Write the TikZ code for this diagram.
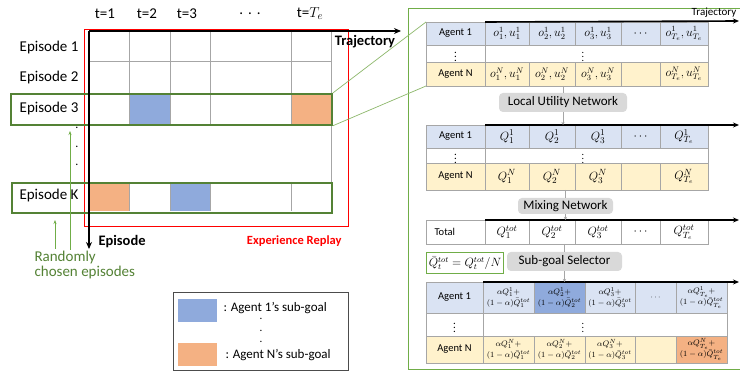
\documentclass[tikz,border=0pt]{standalone}
\usepackage{fontspec}
\setmainfont{Carlito}
\usetikzlibrary{arrows.meta,calc}
\definecolor{gbox}{HTML}{548235}
\definecolor{glink}{HTML}{8DB86B}
\definecolor{panelg}{HTML}{70AD47}
\definecolor{cblue}{HTML}{8FAADC}
\definecolor{corange}{HTML}{F4B183}
\definecolor{lblue}{HTML}{DAE3F3}
\definecolor{lyellow}{HTML}{FFF2CC}
\definecolor{netgray}{HTML}{D9D9D9}
\definecolor{gridg}{HTML}{A6A6A6}
\newcommand{\myfs}[1]{\fontsize{#1}{#1}\selectfont}
\newcommand{\tcell}[7]{\node[cellst,#6,anchor=north west,minimum width={(#4-#2)*1pt},minimum height={(#5-#3)*1pt}] (#1) at (#2,#3) {#7};}
\newcommand{\qq}[2]{$\alpha Q_{#1}^{#2}+$\\$(1-\alpha)\bar{Q}_{#1}^{tot}$}
\begin{document}
\begin{tikzpicture}[x=1pt,y=-1pt,
  cellst/.style={draw=gridg,line width=0.7pt,inner sep=0pt,outer sep=0pt,align=center,font=\myfs{11}},
  labc/.style={font=\myfs{10.5}},
  gridline/.style={draw=gridg,line width=0.7pt},
  epbox/.style={draw=gbox,line width=1.8pt,inner sep=0pt,anchor=north west},
  axis/.style={line width=1.6pt,-{Stealth[length=7pt,width=6pt]}},
  traj/.style={line width=1.6pt,-{Stealth[length=6pt,width=5pt]}},
  garrow/.style={draw=panelg,line width=0.8pt,-{Stealth[length=4pt,width=3pt]}},
  glinkst/.style={draw=glink,line width=0.7pt},
  netbox/.style={fill=netgray,rounded corners=4pt,inner sep=0pt,font=\myfs{13}},
  conn/.style={draw=gridg,line width=0.7pt},
  connarr/.style={draw=gridg,line width=0.7pt,-{Stealth[length=3pt,width=3pt]}},
  eplab/.style={anchor=east,font=\myfs{15}},
  tlab/.style={font=\myfs{15}}
]
\useasboundingbox (0,0) rectangle (740,371);
\clip (0,0) rectangle (740,371);
\fill[white] (0,0) rectangle (740,371);

% ---------------- left: experience replay ----------------
\node[draw=red,line width=1pt,inner sep=0pt,anchor=north west,minimum width=264pt,minimum height=197pt] (replay) at (84,29) {};
\fill[cblue] (129,93) rectangle (170,124);
\fill[corange] (291,93) rectangle (331,124);
\fill[corange] (89,182) rectangle (129,211);
\fill[cblue] (170,182) rectangle (210,211);
\foreach \x in {129,170,210,291} {
  \draw[gridline] (\x,32) -- (\x,124);
  \draw[gridline] (\x,182) -- (\x,211);
}
\draw[gridline] (331,32) -- (331,211);
\draw[gridline] (89,61) -- (331,61);

\node[epbox,minimum width=321pt,minimum height=31pt] (ep3box) at (10,93) {};
\node[epbox,minimum width=320pt,minimum height=30pt] (epKbox) at (11,182) {};

\coordinate (orig) at (89,31);
\coordinate (trajend) at (401,31);
\coordinate (epend) at (89,249);
\draw[axis] (orig) -- (trajend);
\draw[axis] (orig) -- (epend);
\node[font=\myfs{14.5}\bfseries] (trajlab) at (365,42) {Trajectory};
\node[anchor=west,font=\myfs{14.5}\bfseries] (eplabel) at (95,242) {Episode};
\node[anchor=east,font=\myfs{12.5}\bfseries,text=red] (erlab) at (345,241) {Experience Replay};

\node[tlab] (t1) at (105,14) {t=1};
\node[tlab] (t2) at (147,14) {t=2};
\node[tlab] (t3) at (187,14) {t=3};
\node[tlab] (tdots) at (250,14) {.\,\,.\,\,.};
\node[tlab] (tTe) at (310,14) {t=$T_e$};

\node[eplab] (ep1) at (82,48) {Episode 1};
\node[eplab] (ep2) at (82,78) {Episode 2};
\node[eplab] (ep3) at (82,109) {Episode 3};
\node[eplab] (epK) at (82,196) {Episode K};
\foreach \y/\k in {131/1,150/2,168/3} \node[font=\myfs{12}] (lvd\k) at (77,\y-3) {.};

\node[anchor=north west,align=left,text=gbox,font=\myfs{15}] (rce) at (31,248) {Randomly\\chosen episodes};
\coordinate (ra1s) at (55,249);
\coordinate (ra1e) at (55,220);
\coordinate (ra2s) at (70,250);
\coordinate (ra2e) at (70,131);
\draw[garrow] (ra1s) -- (ra1e);
\draw[garrow] (ra2s) -- (ra2e);

% legend
\node[draw=black!70,line width=0.8pt,inner sep=0pt,anchor=north west,minimum width=175pt,minimum height=78pt] (legend) at (173,292) {};
\node[fill=cblue,inner sep=0pt,anchor=north west,minimum width=39pt,minimum height=23pt] (legb) at (178,299) {};
\node[fill=corange,inner sep=0pt,anchor=north west,minimum width=39pt,minimum height=23pt] (lego) at (178,343) {};
\node[anchor=west,font=\myfs{13}] (legbt) at (220,308) {: Agent 1’s sub-goal};
\node[anchor=west,font=\myfs{13}] (legot) at (222,355) {: Agent N’s sub-goal};
\foreach \y/\k in {322/1,334/2,345/3} \node[font=\myfs{11}] (legd\k) at (261,\y-3) {.};

% ---------------- right panel ----------------
\node[draw=panelg,line width=1pt,inner sep=0pt,anchor=north west,minimum width=345pt,minimum height=361pt] (panel) at (408,8) {};

% table 1
\foreach \n/\xl/\xr/\txt in {0/426/485/{},1/485/529/{$o_1^1,u_1^1$},2/529/575/{$o_2^1,u_2^1$},3/575/621/{$o_3^1,u_3^1$},4/621/660/{$\cdots$},5/660/708/{$o_{T_e}^1,u_{T_e}^1$}}
  {\tcell{ta-\n}{\xl}{22}{\xr}{45}{fill=lblue,font=\myfs{12}}{\txt}}
\tcell{td-0}{426}{45}{485}{62}{fill=white}{$\vdots$}
\tcell{td-1}{485}{45}{708}{62}{fill=white}{}
\node (td-v) at (583,53.5) {$\vdots$};
\foreach \n/\xl/\xr/\txt in {0/426/485/{},1/485/529/{$o_1^N,u_1^N$},2/529/575/{$o_2^N,u_2^N$},3/575/621/{$o_3^N,u_3^N$},4/621/660/{},5/660/708/{$o_{T_e}^N,u_{T_e}^N$}}
  {\tcell{tn-\n}{\xl}{62}{\xr}{86}{fill=lyellow,font=\myfs{12}}{\txt}}
\node[labc] (ta-lab) at (ta-0) {Agent 1};
\node[labc] (tn-lab) at (tn-0) {Agent N};
\coordinate (t1end) at (739,21);
\draw[traj] (ta-1.north west) -- (t1end);
\node[font=\myfs{11}] (trajsmall) at (714,13) {Trajectory};

\draw[glinkst] (ep3box.north east) -- (ta-0.north west);
\draw[glinkst] (ep3box.south east) -- (tn-0.south west);

\node[netbox,minimum width=128pt,minimum height=19pt] (lun) at (563,102.5) {Local Utility Network};

% table 2
\foreach \n/\xl/\xr/\txt in {0/426/485/{},1/485/529/{$Q_1^1$},2/529/575/{$Q_2^1$},3/575/621/{$Q_3^1$},4/621/660/{$\cdots$},5/660/708/{$Q_{T_e}^1$}}
  {\tcell{qa-\n}{\xl}{125}{\xr}{148}{fill=lblue,font=\myfs{12.5}}{\txt}}
\tcell{qd-0}{426}{148}{485}{163}{fill=white}{$\vdots$}
\tcell{qd-1}{485}{148}{708}{163}{fill=white}{}
\node (qd-v) at (583,155.5) {$\vdots$};
\foreach \n/\xl/\xr/\txt in {0/426/485/{},1/485/529/{$Q_1^N$},2/529/575/{$Q_2^N$},3/575/621/{$Q_3^N$},4/621/660/{},5/660/708/{$Q_{T_e}^N$}}
  {\tcell{qn-\n}{\xl}{163}{\xr}{190}{fill=lyellow,font=\myfs{12.5}}{\txt}}
\node[labc] (qa-lab) at (qa-0) {Agent 1};
\node[labc] (qn-lab) at (qn-0) {Agent N};
\coordinate (t2end) at (739,125);
\draw[traj] (qa-1.north west) -- (t2end);

\draw[conn] (tn-2.south -| lun.north) -- (lun.north);
\draw[connarr] (lun.south) -- (lun.south |- qa-2.north);

\node[netbox,minimum width=95pt,minimum height=16pt] (mix) at (565.5,206) {Mixing Network};

% table 3
\foreach \n/\xl/\xr/\txt in {0/426/485/{},1/485/529/{$Q_1^{tot}$},2/529/575/{$Q_2^{tot}$},3/575/621/{$Q_3^{tot}$},4/621/660/{$\cdots$},5/660/708/{$Q_{T_e}^{tot}$}}
  {\tcell{tt-\n}{\xl}{220}{\xr}{244}{fill=white,font=\myfs{12.5}}{\txt}}
\node[labc,anchor=west] (tt-lab) at ([xshift=5pt]tt-0.west) {Total};
\coordinate (t3end) at (739,220);
\draw[traj] (tt-1.north west) -- (t3end);

\draw[conn] (qn-2.south -| mix.north) -- (mix.north);
\draw[connarr] (mix.south) -- (mix.south |- tt-2.north);

\node[draw=panelg,line width=1pt,inner sep=0pt,anchor=north west,minimum width=77pt,minimum height=21pt,font=\myfs{12}] (qbar) at (426,252) {$\bar{Q}_t^{tot}=Q_t^{tot}/N$};
\node[netbox,minimum width=115pt,minimum height=19pt] (sgs) at (564.5,261.5) {Sub-goal Selector};

% table 4
\foreach \n/\xl/\xr/\txt/\fc in {0/426/483/{}/lblue,1/483/534/{\qq{1}{1}}/lblue,2/534/585/{\qq{2}{1}}/cblue,3/585/635/{\qq{3}{1}}/lblue,4/635/676/{$\cdots$}/lblue,5/676/727/{\qq{T_e}{1}}/lblue}
  {\tcell{sa-\n}{\xl}{282}{\xr}{313}{fill=\fc,font=\fontsize{8.3}{11}\selectfont}{\txt}}
\tcell{sd-0}{426}{313}{483}{336}{fill=white,font=\myfs{11}}{$\vdots$}
\tcell{sd-1}{483}{313}{727}{336}{fill=white}{}
\node (sd-v) at (583,324.5) {$\vdots$};
\foreach \n/\xl/\xr/\txt/\fc in {0/426/483/{}/lyellow,1/483/534/{\qq{1}{N}}/lyellow,2/534/585/{\qq{2}{N}}/lyellow,3/585/635/{\qq{3}{N}}/lyellow,4/635/676/{}/lyellow,5/676/727/{\qq{T_e}{N}}/corange}
  {\tcell{sn-\n}{\xl}{336}{\xr}{363}{fill=\fc,font=\fontsize{8.3}{11}\selectfont}{\txt}}
\node[labc] (sa-lab) at (sa-0) {Agent 1};
\node[labc] (sn-lab) at (sn-0) {Agent N};
\coordinate (t4end) at (739,282);
\draw[traj] (sa-1.north west) -- (t4end);

\draw[conn] (tt-2.south -| sgs.north) -- (sgs.north);
\draw[connarr] (sgs.south) -- (sgs.south |- sa-2.north);
\end{tikzpicture}
\end{document}
